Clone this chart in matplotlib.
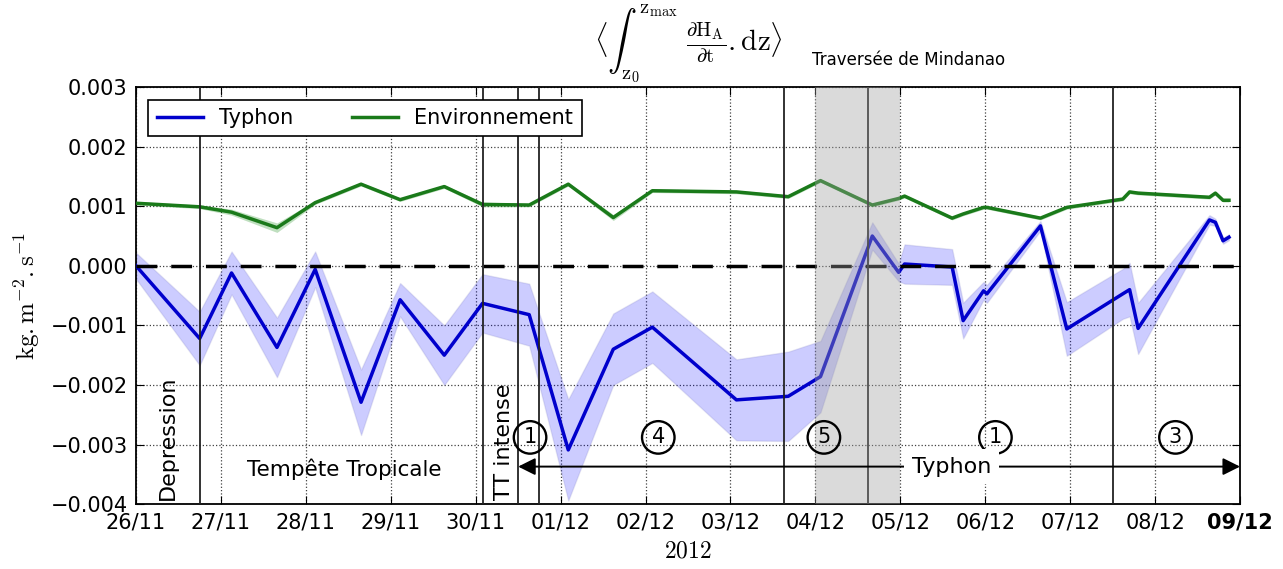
import matplotlib
matplotlib.use('Agg')
import matplotlib.pyplot as plt
import matplotlib.dates as mdates
import pandas as pd

plt.rcParams['mathtext.fontset'] = 'cm'
plt.rcParams['font.family'] = ['DejaVu Sans']

# ---------------- data ----------------
start = pd.Timestamp('2012-11-26')

# time in days since 26/11/2012 00:00
time_days = [0.0, 0.75, 1.125, 1.66, 2.11, 2.65, 3.11, 3.63, 4.08, 4.63, 5.09,
             5.62, 6.08, 7.07, 7.68, 8.06, 8.67, 8.98, 9.05, 9.61, 9.74, 9.98,
             10.02, 10.65, 10.96, 11.62, 11.70, 11.80, 12.64, 12.71, 12.80, 12.87]

# values in 1e-3 kg.m-2.s-1
typhon = [0.0, -1.22, -0.12, -1.37, -0.06, -2.29, -0.57, -1.50, -0.63, -0.82, -3.09,
          -1.40, -1.03, -2.25, -2.19, -1.86, 0.50, -0.11, 0.03, -0.02, -0.92, -0.42,
          -0.47, 0.67, -1.06, -0.47, -0.40, -1.05, 0.77, 0.73, 0.42, 0.48]
typhon_err = [0.22, 0.45, 0.36, 0.50, 0.30, 0.55, 0.28, 0.50, 0.49, 0.52, 0.85,
              0.60, 0.60, 0.68, 0.75, 0.60, 0.23, 0.15, 0.33, 0.30, 0.30, 0.15,
              0.15, 0.08, 0.45, 0.42, 0.45, 0.43, 0.08, 0.06, 0.05, 0.05]

env = [1.05, 0.99, 0.90, 0.64, 1.06, 1.37, 1.11, 1.33, 1.03, 1.02, 1.37,
       0.81, 1.26, 1.24, 1.16, 1.43, 1.02, 1.13, 1.17, 0.80, 0.87, 0.98,
       0.98, 0.80, 0.98, 1.12, 1.24, 1.22, 1.15, 1.22, 1.10, 1.10]
env_err = [0.03, 0.03, 0.05, 0.08, 0.03, 0.03, 0.03, 0.03, 0.04, 0.03, 0.03,
           0.05, 0.03, 0.03, 0.03, 0.03, 0.03, 0.03, 0.03, 0.03, 0.03, 0.03,
           0.03, 0.03, 0.03, 0.03, 0.03, 0.03, 0.03, 0.03, 0.03, 0.03]

phase_lines_days = [0.75, 4.083, 4.5, 4.75, 7.625, 8.625, 11.5]
mindanao_span_days = [8.0, 9.0]

circle_labels = ['1', '4', '5', '1', '3']
circle_days = [4.64, 6.15, 8.10, 10.12, 12.24]

yticks = [-0.004, -0.003, -0.002, -0.001, 0.0, 0.001, 0.002, 0.003]
series_names = ['Typhon', 'Environnement']

# ---------------- plotting ----------------
scale = 1e-3
def d(days):
    return mdates.date2num(start + pd.to_timedelta(days, unit='D'))

t = [d(x) for x in time_days]
ty = [v * scale for v in typhon]
ty_lo = [(v - e) * scale for v, e in zip(typhon, typhon_err)]
ty_hi = [(v + e) * scale for v, e in zip(typhon, typhon_err)]
en = [v * scale for v in env]
en_lo = [(v - e) * scale for v, e in zip(env, env_err)]
en_hi = [(v + e) * scale for v, e in zip(env, env_err)]

fig = plt.figure(figsize=(12.83, 5.69), dpi=100)
ax = fig.add_axes([0.106, 0.114, 0.8605, 0.733])

ax.fill_between(t, ty_lo, ty_hi, color='#0000ff', alpha=0.2, lw=1, edgecolor='#8080c0', zorder=2)
ax.fill_between(t, en_lo, en_hi, color='#008000', alpha=0.25, lw=0, zorder=2)
ax.plot(t, ty, color='#0000cc', lw=2.5, label=series_names[0], zorder=3)
ax.plot(t, en, color='#1a7a1a', lw=2.5, label=series_names[1], zorder=3)

ax.axhline(0, color='k', ls='--', lw=2.5, dashes=(6, 4), zorder=3)

for x in phase_lines_days:
    ax.axvline(d(x), color='#222222', lw=1.3, zorder=4)

ax.axvspan(d(mindanao_span_days[0]), d(mindanao_span_days[1]), color='#a0a0a0',
           alpha=0.38, lw=0, zorder=5)

def yfmt(v, pos):
    s = '%.3f' % v
    if s.replace('-', '') == '0.000':
        s = '0.000'
    return s.replace('-', '\u2212')

ax.set_xlim(d(0), d(13))
ax.set_ylim(-0.004, 0.003)
ax.set_yticks(yticks)
ax.yaxis.set_major_formatter(matplotlib.ticker.FuncFormatter(yfmt))
ax.xaxis.set_major_locator(mdates.DayLocator())
ax.xaxis.set_major_formatter(mdates.DateFormatter('%d/%m'))
ax.tick_params(direction='in', top=True, right=True, labelsize=15, length=6, pad=6)
ax.grid(True, color='k', ls=':', lw=0.9, alpha=0.75)
fig.canvas.draw()
for lab in ax.get_xticklabels():
    if lab.get_text() == '09/12':
        lab.set_fontweight('bold')

for sp in ax.spines.values():
    sp.set_linewidth(1.3)

ax.set_ylabel(r'$\mathrm{kg.m^{-2}.s^{-1}}$', fontsize=18, labelpad=6)
ax.set_xlabel(r'$\mathrm{2012}$', fontsize=17, labelpad=4)
ax.set_title(r'$\langle\int_{\mathrm{z_0}}^{\mathrm{z_{max}}}\ \frac{\partial\mathrm{H_A}}{\partial\mathrm{t}}.\mathrm{dz}\rangle$',
             fontsize=21, pad=26)

leg = ax.legend(loc='upper left', ncol=2, fontsize=15, fancybox=False,
                edgecolor='k', framealpha=1, handlelength=2.2, columnspacing=2.8,
                borderaxespad=0.6)
leg.get_frame().set_linewidth(1.2)
leg.set_zorder(10)

# annotations
ax.text(d(0.38), -0.00393, 'Depression', rotation=90, fontsize=16, ha='center', va='bottom', zorder=6)
ax.text(d(2.45), -0.00342, 'Tempête Tropicale', fontsize=15.5, ha='center', va='center', zorder=6)
ax.text(d(4.33), -0.00393, 'TT intense', rotation=90, fontsize=16, ha='center', va='bottom', zorder=6)
for lab, x in zip(circle_labels, circle_days):
    ax.text(d(x), -0.00288, lab, fontsize=15, ha='center', va='center', zorder=6,
            bbox=dict(boxstyle='circle,pad=0.3', fc='none', ec='k', lw=1.7))

yarr = -0.00337
ax.annotate('', xy=(d(4.5), yarr), xytext=(d(13.0), yarr),
            arrowprops=dict(arrowstyle='<|-|>', color='k', lw=1.4, mutation_scale=26,
                            shrinkA=0, shrinkB=0), zorder=6)
ax.text(d(9.6), yarr, 'Typhon', fontsize=16, ha='center', va='center', zorder=7,
        bbox=dict(boxstyle='square,pad=0.35', fc='white', ec='none'))

ax.text(d(9.1), 0.0033, 'Traversée de Mindanao', fontsize=12, ha='center', va='bottom')

fig.savefig('out.png', dpi=100)
